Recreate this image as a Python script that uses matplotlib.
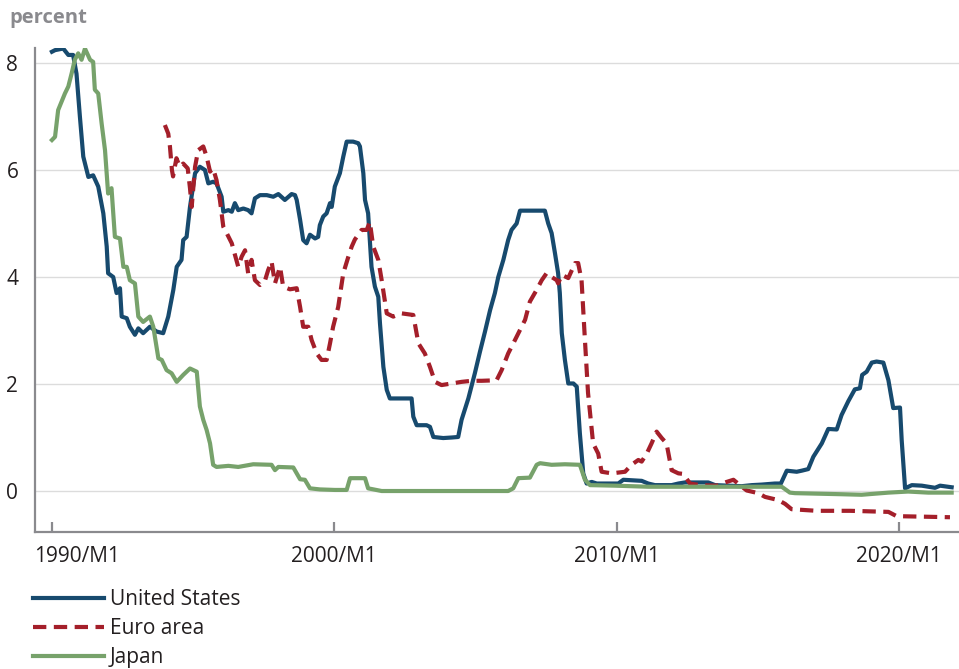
import matplotlib
matplotlib.use("Agg")
import matplotlib.pyplot as plt
from matplotlib.transforms import ScaledTranslation

plt.rcParams['font.family'] = ['Open Sans', 'DejaVu Sans']

# policy / short rates, percent
us_t = [1990.00, 1990.11, 1990.40, 1990.58, 1990.75, 1990.87, 1990.99, 1991.11, 1991.29, 1991.46,
        1991.64, 1991.82, 1991.94, 1991.99, 1992.17, 1992.29, 1992.41, 1992.47, 1992.65, 1992.76,
        1992.94, 1993.06, 1993.23, 1993.47, 1993.71, 1993.94, 1994.12, 1994.30, 1994.42, 1994.59,
        1994.65, 1994.77, 1994.89, 1995.07, 1995.24, 1995.42, 1995.54, 1995.71, 1995.83, 1996.01,
        1996.07, 1996.25, 1996.37, 1996.48, 1996.60, 1996.78, 1996.95, 1997.07, 1997.19, 1997.37,
        1997.61, 1997.84, 1998.02, 1998.25, 1998.49, 1998.61, 1998.67, 1998.79, 1998.90, 1999.02,
        1999.14, 1999.32, 1999.43, 1999.49, 1999.61, 1999.73, 1999.85, 1999.91, 2000.02, 2000.20,
        2000.32, 2000.44, 2000.67, 2000.85, 2000.91, 2001.03, 2001.09, 2001.20, 2001.26, 2001.32,
        2001.44, 2001.56, 2001.62, 2001.74, 2001.86, 2001.97, 2002.21, 2002.50, 2002.74, 2002.80,
        2002.92, 2003.27, 2003.39, 2003.51, 2003.86, 2004.16, 2004.39, 2004.51, 2004.75, 2004.98,
        2005.16, 2005.34, 2005.52, 2005.69, 2005.81, 2005.99, 2006.16, 2006.28, 2006.46, 2006.58,
        2006.99, 2007.46, 2007.58, 2007.70, 2007.82, 2007.93, 2007.99, 2008.06, 2008.17, 2008.29,
        2008.47, 2008.59, 2008.70, 2008.82, 2008.94, 2009.12, 2009.30, 2009.83, 2010.06, 2010.24,
        2010.89, 2011.12, 2011.36, 2011.95, 2012.19, 2012.42, 2012.78, 2013.25, 2013.49, 2014.43,
        2014.79, 2015.14, 2015.61, 2015.82, 2016.03, 2016.38, 2016.56, 2016.79, 2016.97, 2017.27,
        2017.50, 2017.80, 2017.97, 2018.21, 2018.44, 2018.62, 2018.70, 2018.86, 2019.04, 2019.21,
        2019.45, 2019.63, 2019.80, 2020.04, 2020.10, 2020.22, 2020.46, 2020.81, 2021.28, 2021.46,
        2021.87]
us_v = [8.21, 8.24, 8.27, 8.15, 8.15, 7.80, 7.00, 6.25, 5.87, 5.90,
        5.69, 5.19, 4.57, 4.07, 4.00, 3.70, 3.79, 3.26, 3.23, 3.07,
        2.92, 3.04, 2.95, 3.07, 2.98, 2.95, 3.26, 3.76, 4.19, 4.32,
        4.69, 4.75, 5.31, 5.94, 6.06, 6.00, 5.75, 5.78, 5.75, 5.50,
        5.22, 5.25, 5.22, 5.38, 5.25, 5.28, 5.25, 5.19, 5.47, 5.53,
        5.53, 5.50, 5.55, 5.44, 5.55, 5.53, 5.44, 5.07, 4.69, 4.63,
        4.79, 4.72, 4.75, 4.97, 5.13, 5.19, 5.38, 5.31, 5.69, 5.94,
        6.25, 6.53, 6.53, 6.50, 6.44, 5.94, 5.44, 5.19, 4.69, 4.19,
        3.82, 3.63, 3.13, 2.32, 1.89, 1.73, 1.73, 1.73, 1.73, 1.39,
        1.23, 1.23, 1.20, 1.01, 0.99, 1.00, 1.01, 1.33, 1.73, 2.20,
        2.60, 2.98, 3.38, 3.70, 4.00, 4.32, 4.69, 4.88, 5.00, 5.24,
        5.24, 5.24, 5.00, 4.82, 4.44, 4.07, 3.70, 2.95, 2.45, 2.01,
        2.01, 1.95, 1.08, 0.33, 0.14, 0.17, 0.14, 0.14, 0.14, 0.21,
        0.19, 0.14, 0.11, 0.11, 0.14, 0.16, 0.16, 0.16, 0.11, 0.09,
        0.11, 0.12, 0.14, 0.14, 0.38, 0.36, 0.38, 0.41, 0.64, 0.89,
        1.16, 1.15, 1.42, 1.68, 1.90, 1.92, 2.17, 2.23, 2.40, 2.42,
        2.40, 2.07, 1.55, 1.56, 0.95, 0.05, 0.11, 0.10, 0.06, 0.10,
        0.07]

euro_t = [1994.00, 1994.12, 1994.18, 1994.25, 1994.29, 1994.41, 1994.53, 1994.65, 1994.81, 1994.89,
          1994.95, 1995.07, 1995.18, 1995.36, 1995.48, 1995.60, 1995.71, 1995.83, 1995.95, 1996.07,
          1996.19, 1996.37, 1996.60, 1996.72, 1996.84, 1996.95, 1997.07, 1997.19, 1997.37, 1997.55,
          1997.66, 1997.78, 1997.90, 1998.08, 1998.19, 1998.43, 1998.67, 1998.79, 1998.90, 1999.08,
          1999.20, 1999.38, 1999.55, 1999.73, 1999.85, 1999.96, 2000.14, 2000.32, 2000.50, 2000.62,
          2000.73, 2000.97, 2001.15, 2001.26, 2001.38, 2001.56, 2001.68, 2001.86, 2002.09, 2002.39,
          2002.80, 2002.98, 2003.21, 2003.39, 2003.57, 2003.80, 2004.16, 2004.51, 2004.87, 2005.22,
          2005.75, 2005.93, 2006.16, 2006.40, 2006.58, 2006.76, 2006.93, 2007.17, 2007.35, 2007.52,
          2007.70, 2007.88, 2007.93, 2008.06, 2008.29, 2008.53, 2008.64, 2008.76, 2008.88, 2008.99,
          2009.17, 2009.35, 2009.47, 2009.83, 2010.30, 2010.53, 2010.77, 2010.89, 2011.07, 2011.24,
          2011.42, 2011.60, 2011.77, 2011.95, 2012.19, 2012.36, 2012.60, 2012.95, 2013.55, 2013.90,
          2014.14, 2014.37, 2014.61, 2015.02, 2015.26, 2015.73, 2015.97, 2016.20, 2017.09, 2018.27,
          2019.63, 2019.92, 2020.92, 2021.81]
euro_v = [6.84, 6.68, 6.44, 6.00, 5.88, 6.22, 6.06, 6.12, 6.03, 5.66,
          5.31, 6.06, 6.37, 6.44, 6.25, 5.97, 6.03, 5.81, 5.44, 4.94,
          4.82, 4.63, 4.19, 4.38, 4.50, 4.07, 4.32, 3.94, 3.85, 3.94,
          4.13, 4.29, 3.88, 4.19, 3.82, 3.77, 3.79, 3.44, 3.07, 3.07,
          2.82, 2.57, 2.45, 2.45, 2.76, 3.07, 3.44, 4.07, 4.38, 4.57,
          4.70, 4.88, 4.88, 5.03, 4.57, 4.32, 3.94, 3.32, 3.26, 3.32,
          3.29, 2.76, 2.57, 2.32, 2.04, 1.98, 2.01, 2.04, 2.06, 2.06,
          2.07, 2.26, 2.57, 2.82, 3.01, 3.20, 3.54, 3.76, 3.94, 4.07,
          4.00, 3.94, 3.88, 4.04, 3.98, 4.26, 4.26, 3.94, 2.82, 1.83,
          0.89, 0.70, 0.36, 0.33, 0.36, 0.49, 0.58, 0.55, 0.70, 0.89,
          1.11, 0.99, 0.89, 0.39, 0.33, 0.32, 0.14, 0.11, 0.10, 0.17,
          0.21, 0.11, 0.01, -0.04, -0.11, -0.17, -0.24, -0.34, -0.37, -0.37,
          -0.39, -0.47, -0.48, -0.49]

japan_t = [1990.00, 1990.11, 1990.22, 1990.46, 1990.58, 1990.70, 1990.81, 1990.93, 1991.05, 1991.17,
           1991.35, 1991.46, 1991.52, 1991.64, 1991.76, 1991.88, 1991.99, 1992.11, 1992.23, 1992.41,
           1992.53, 1992.65, 1992.76, 1992.94, 1993.06, 1993.23, 1993.47, 1993.59, 1993.77, 1993.89,
           1994.06, 1994.24, 1994.42, 1994.65, 1994.89, 1995.13, 1995.24, 1995.36, 1995.48, 1995.60,
           1995.71, 1995.83, 1996.25, 1996.60, 1997.13, 1997.78, 1997.90, 1998.02, 1998.55, 1998.67,
           1998.79, 1998.96, 1999.14, 1999.49, 2000.02, 2000.44, 2000.56, 2000.85, 2001.09, 2001.20,
           2001.68, 2006.16, 2006.34, 2006.52, 2006.93, 2007.17, 2007.29, 2007.70, 2008.17, 2008.70,
           2008.88, 2009.06, 2009.94, 2011.12, 2015.85, 2016.14, 2016.32, 2017.97, 2018.68, 2019.63,
           2020.33, 2021.04, 2021.87]
japan_v = [6.56, 6.62, 7.12, 7.43, 7.56, 7.81, 8.06, 8.18, 8.06, 8.27,
           8.06, 8.02, 7.50, 7.43, 6.87, 6.37, 5.56, 5.66, 4.75, 4.72,
           4.19, 4.19, 3.94, 3.88, 3.26, 3.16, 3.26, 3.07, 2.48, 2.45,
           2.26, 2.20, 2.04, 2.17, 2.29, 2.23, 1.58, 1.33, 1.14, 0.89,
           0.49, 0.45, 0.47, 0.45, 0.50, 0.49, 0.39, 0.45, 0.44, 0.33,
           0.22, 0.21, 0.05, 0.03, 0.02, 0.02, 0.24, 0.24, 0.24, 0.05,
           0.00, 0.00, 0.05, 0.24, 0.25, 0.49, 0.52, 0.49, 0.50, 0.49,
           0.21, 0.11, 0.10, 0.08, 0.08, -0.03, -0.04, -0.06, -0.07, -0.03,
           -0.01, -0.03, -0.03]

tick_years = [1990, 2000, 2010, 2020]
tick_labels = ["1990/M1", "2000/M1", "2010/M1", "2020/M1"]
y_ticks = [0, 2, 4, 6, 8]

fig = plt.figure(figsize=(9.59, 6.69), dpi=100)
ax = fig.add_axes([35 / 959, 1 - 532 / 669, 1 - 35 / 959, (532 - 48) / 669])

ax.plot(us_t, us_v, color='#174a6e', lw=3, label='United States')
ax.plot(euro_t, euro_v, color='#a41f2a', lw=3, dashes=(3.2, 1.8), label='Euro area')
ax.plot(japan_t, japan_v, color='#77a26b', lw=3, label='Japan')

ax.set_xlim(1989.40, 2022.13)
ax.set_ylim(-0.766, 8.28)
ax.set_yticks(y_ticks)
ax.set_xticks(tick_years)
ax.set_xticklabels(tick_labels)
ax.grid(axis='y', color='#dcdcdc', lw=1)
ax.set_axisbelow(True)

for s in ['top', 'right']:
    ax.spines[s].set_visible(False)
for s in ['left', 'bottom']:
    ax.spines[s].set_color('#8a8a8e')
    ax.spines[s].set_linewidth(1.6)

ax.tick_params(axis='y', length=0, pad=12, labelsize=15, labelcolor='#231f20')
ax.tick_params(axis='x', direction='in', length=7, width=1.6, color='#8a8a8e',
               pad=10, labelsize=15, labelcolor='#231f20')

# first date label sits flush with the left spine
first = ax.get_xticklabels()[0]
first.set_horizontalalignment('left')
first.set_transform(first.get_transform() + ScaledTranslation(-18 / 100, 0, fig.dpi_scale_trans))

fig.text(9 / 959, 1 - 18 / 669, 'percent', fontsize=14.5, fontweight='bold',
         color='#8a8a8e', va='center', ha='left')

fig.legend(loc='upper left', bbox_to_anchor=(33 / 959, 1 - 589 / 669), frameon=False,
           fontsize=15, handlelength=3.4, handletextpad=0.3, labelspacing=0.38,
           borderpad=0, borderaxespad=0, labelcolor='#231f20')

fig.savefig('out.png', dpi=100)
